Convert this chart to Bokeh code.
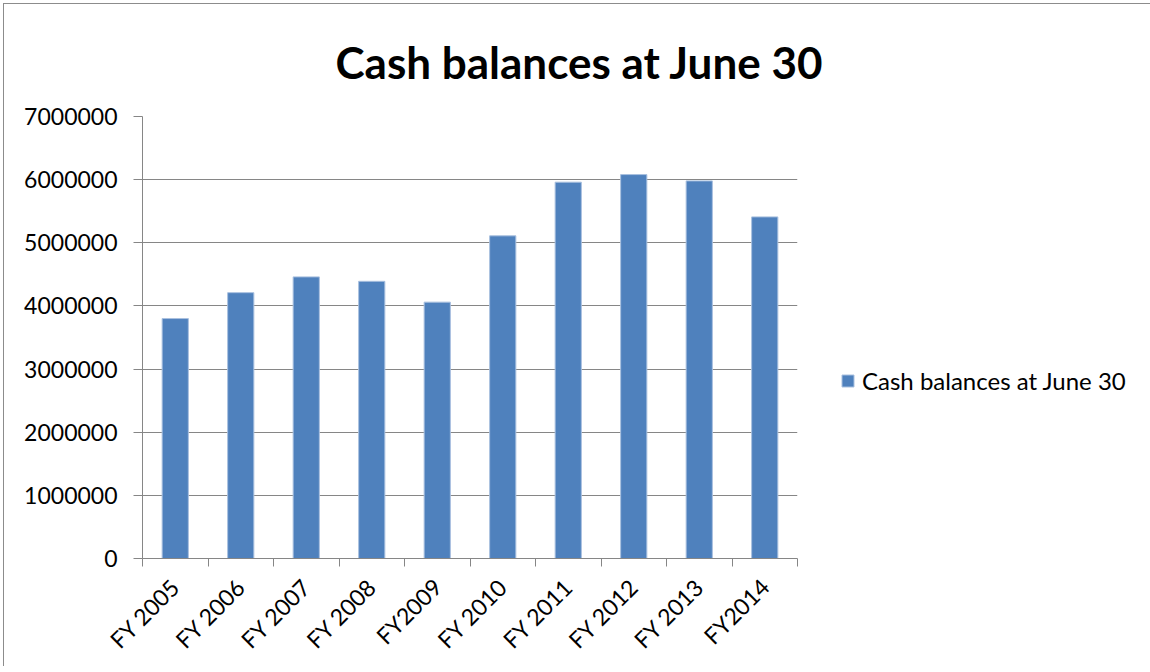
import math
from bokeh.plotting import figure
from bokeh.models import (ColumnDataSource, FixedTicker, Range1d, Legend, LegendItem,
                          BasicTickFormatter)
from bokeh.embed import file_html
from bokeh.resources import INLINE

# ---- data ----
categories = ["FY 2005", "FY 2006", "FY 2007", "FY 2008", "FY2009",
              "FY 2010", "FY 2011", "FY 2012", "FY 2013", "FY2014"]
cash_balances = [3800000, 4210000, 4460000, 4390000, 4060000,
                 5110000, 5960000, 6080000, 5980000, 5410000]
y_ticks = [0, 1000000, 2000000, 3000000, 4000000, 5000000, 6000000, 7000000]
series_name = "Cash balances at June 30"
title_text = "Cash balances at June 30"

centers = [i + 0.5 for i in range(len(categories))]
boundaries = list(range(len(categories) + 1))

src = ColumnDataSource(dict(x=centers, top=cash_balances, cat=categories))

FONT = "Lato"
GREY = "#868686"
BAR = "#4F81BD"

p = figure(frame_width=655, frame_height=442, output_backend="svg", toolbar_location=None,
           x_range=Range1d(0, len(categories)), y_range=Range1d(0, 7000000),
           min_border_left=138, min_border_right=341, min_border_top=111,
           min_border_bottom=107, title=title_text)
p.styles = {"margin-left": "3px", "margin-top": "3px",
            "border-top": "1px solid #8c8c8c", "border-left": "1px solid #8c8c8c"}
p.outline_line_color = None
p.background_fill_color = "white"
p.border_fill_color = "white"

p.title.text_font = FONT
p.title.text_font_style = "bold"
p.title.text_font_size = "44px"
p.title.align = "left"
p.title.offset = 193
p.title.standoff = 58
p.title.text_color = "black"

r = p.vbar(x="x", top="top", width=0.4, source=src, fill_color=BAR,
           line_color="#a9c0df", line_width=1)

# x axis
xa = p.xaxis[0]
xa.ticker = FixedTicker(ticks=centers, minor_ticks=boundaries)
xa.major_label_overrides = {c: lab for c, lab in zip(centers, categories)}
xa.major_label_orientation = math.pi / 4
xa.major_tick_line_color = None
xa.major_tick_in = 0
xa.major_tick_out = 0
xa.minor_tick_in = 0
xa.minor_tick_out = 8
xa.minor_tick_line_color = GREY
xa.axis_line_color = GREY
xa.major_label_text_font = FONT
xa.major_label_text_font_size = "23px"
xa.major_label_text_color = "black"
xa.major_label_standoff = 16

# y axis
ya = p.yaxis[0]
ya.ticker = FixedTicker(ticks=y_ticks)
ya.formatter = BasicTickFormatter(use_scientific=False)
ya.major_tick_in = 0
ya.major_tick_out = 9
ya.major_tick_line_color = GREY
ya.minor_tick_line_color = None
ya.axis_line_color = GREY
ya.major_label_text_font = FONT
ya.major_label_text_font_size = "23px"
ya.major_label_text_color = "black"
ya.major_label_standoff = 16

p.xgrid.grid_line_color = None
p.ygrid.ticker = FixedTicker(ticks=y_ticks)
p.ygrid.grid_line_color = GREY

legend = Legend(items=[LegendItem(label=series_name, renderers=[r])],
                location=(43, 163), margin=0, padding=0,
                glyph_width=15, glyph_height=15, label_standoff=7,
                label_text_font=FONT, label_text_font_size="24px",
                label_text_color="black",
                border_line_color=None, background_fill_alpha=0)
p.add_layout(legend, "right")

open("out.html", "w").write(file_html(p, INLINE))
